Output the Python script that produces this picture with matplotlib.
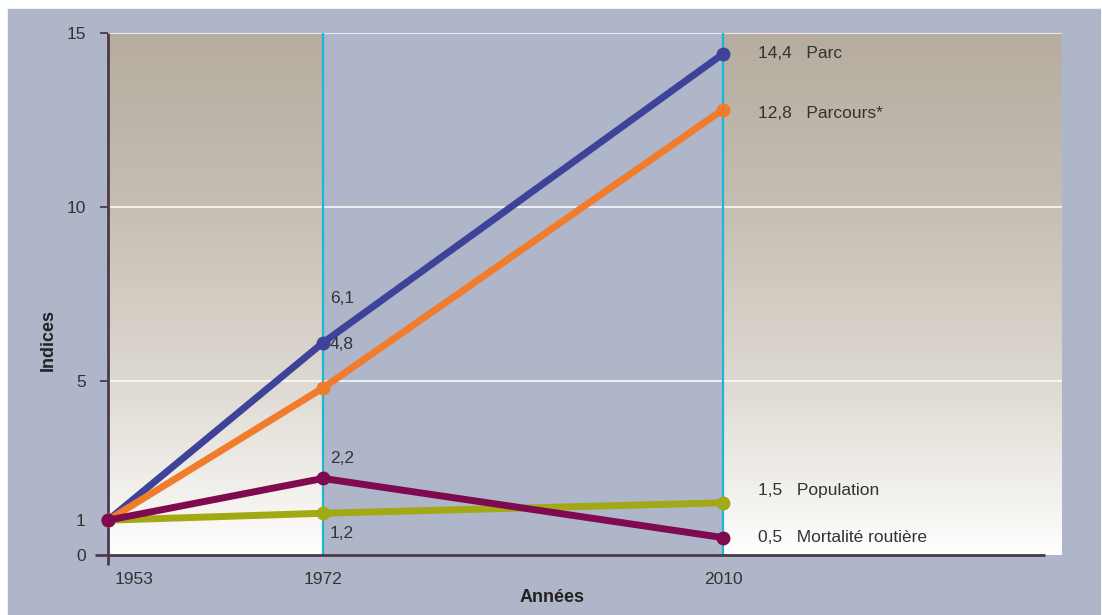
import numpy as np
import matplotlib.pyplot as plt
from matplotlib.colors import LinearSegmentedColormap
from matplotlib.patches import Rectangle
import matplotlib.transforms as mtransforms

# indices base 1 in 1953
years = [1953, 1972, 2010]
parc = [1, 6.1, 14.4]
parcours = [1, 4.8, 12.8]
population = [1, 1.2, 1.5]
mortalite = [1, 2.2, 0.5]

series_names = ['Parc', 'Parcours*', 'Population', 'Mortalité routière']
y_ticks = [0, 1, 5, 10, 15]
grid_ticks = [5, 10, 15]

plt.rcParams['font.family'] = ['Liberation Sans', 'DejaVu Sans']

text_col = '#333333'
axis_col = '#4b3a4c'
bg_col = '#b0b6c9'
cyan = '#19b8d7'
colors = ['#3c4399', '#f07c2c', '#a2a915', '#7f0a4f']

# time axis is not to scale: 1953-1972 gets more room per year than 1972-2010
knots_year = [1953, 1972, 2010, 2042]
knots_pos = [0, 215, 615, 954]


def fwd(x):
    return np.interp(x, knots_year, knots_pos)


def inv(u):
    return np.interp(u, knots_pos, knots_year)


def fmt(v):
    return f'{v:.1f}'.replace('.', ',')


fig = plt.figure(figsize=(11.02, 6.15), dpi=100)
fig.add_artist(Rectangle((8 / 1102, 0), 1092 / 1102, 606 / 615,
                         transform=fig.transFigure, color=bg_col, zorder=-10))

ax = fig.add_axes([108 / 1102, 60 / 615, 954 / 1102, 522 / 615])
ax.set_facecolor(bg_col)
ax.set_xscale('function', functions=(fwd, inv))
ax.set_xlim(1953, 2042)
ax.set_ylim(0, 15)

# sand-to-white gradient bands before 1972 and after 2010
sand = LinearSegmentedColormap.from_list(
    'sand', [(0, '#ffffff'), (0.07, '#f7f6f3'), (0.35, '#dcd7cf'),
             (0.7, '#c3bcb0'), (1, '#b6ada0')])
grad = np.linspace(0, 1, 256).reshape(-1, 1)
to_axes = ax.transData + ax.transAxes.inverted()
for x0, x1 in [(years[0], years[1]), (years[2], 2042)]:
    a0 = to_axes.transform((x0, 0))[0]
    a1 = to_axes.transform((x1, 0))[0]
    ax.imshow(grad, cmap=sand, origin='lower', aspect='auto',
              extent=(a0, a1, 0, 1), transform=ax.transAxes, zorder=0)
ax.set_xlim(1953, 2042)
ax.set_ylim(0, 15)

for yr in years[1:]:
    ax.axvline(yr, color=cyan, lw=1.6, zorder=2)

# ticks, labels and white gridlines
ax.yaxis.remove_overlapping_locs = False
ax.set_yticks(y_ticks)
ax.set_yticklabels([str(t) for t in y_ticks])
ax.set_yticks(grid_ticks, minor=True)
ax.yaxis.grid(True, which='minor', color='white', lw=1.1)
ax.tick_params(axis='y', which='major', length=0, pad=16,
               labelsize=12.5, labelcolor=text_col)
ax.tick_params(axis='y', which='minor', length=6, width=1.3,
               color=axis_col, direction='out')
ax.set_xticks(years)
ax.set_xticklabels([str(y) for y in years])
ax.tick_params(axis='x', length=0, pad=12, labelsize=12.5, labelcolor=text_col)
first = ax.get_xticklabels()[0]
first.set_horizontalalignment('left')
first.set_transform(first.get_transform() +
                    mtransforms.ScaledTranslation(7 / 100, 0, fig.dpi_scale_trans))

for s in ax.spines.values():
    s.set_visible(False)
ax.plot([0, 0], [-10 / 522, 1], transform=ax.transAxes, clip_on=False,
        color=axis_col, lw=2, solid_capstyle='butt', zorder=2.5)
ax.plot([-13 / 954, 937 / 954], [0, 0], transform=ax.transAxes, clip_on=False,
        color=axis_col, lw=2, solid_capstyle='butt', zorder=2.5)

all_series = [parc, parcours, population, mortalite]
for vals, col in zip(all_series, colors):
    ax.plot(years, vals, color=col, lw=5, marker='o', ms=9,
            solid_capstyle='round', clip_on=False, zorder=4)

# values at 1972
mid_offsets = [(5, 32), (5, 31.5), (5, -14.5), (5, 14)]
for vals, off in zip(all_series, mid_offsets):
    ax.annotate(fmt(vals[1]), (years[1], vals[1]), xytext=off,
                textcoords='offset points', ha='left', va='center',
                fontsize=12.5, color=text_col, zorder=6)

# end values and series names at 2010
end_offsets = [(25, 0), (25, -3), (25, 8.5), (25, 0)]
for vals, name, off in zip(all_series, series_names, end_offsets):
    ax.annotate(f'{fmt(vals[2])}   {name}', (years[2], vals[2]), xytext=off,
                textcoords='offset points', ha='left', va='center',
                fontsize=12.5, color=text_col, zorder=6)

fig.text(48 / 1102, 1 - 340 / 615, 'Indices', rotation=90, weight='bold',
         fontsize=13, ha='center', va='center', color='#222222')
fig.text(552 / 1102, 1 - 597 / 615, 'Années', weight='bold',
         fontsize=13, ha='center', va='center', color='#222222')

fig.savefig('out.png', dpi=100)
